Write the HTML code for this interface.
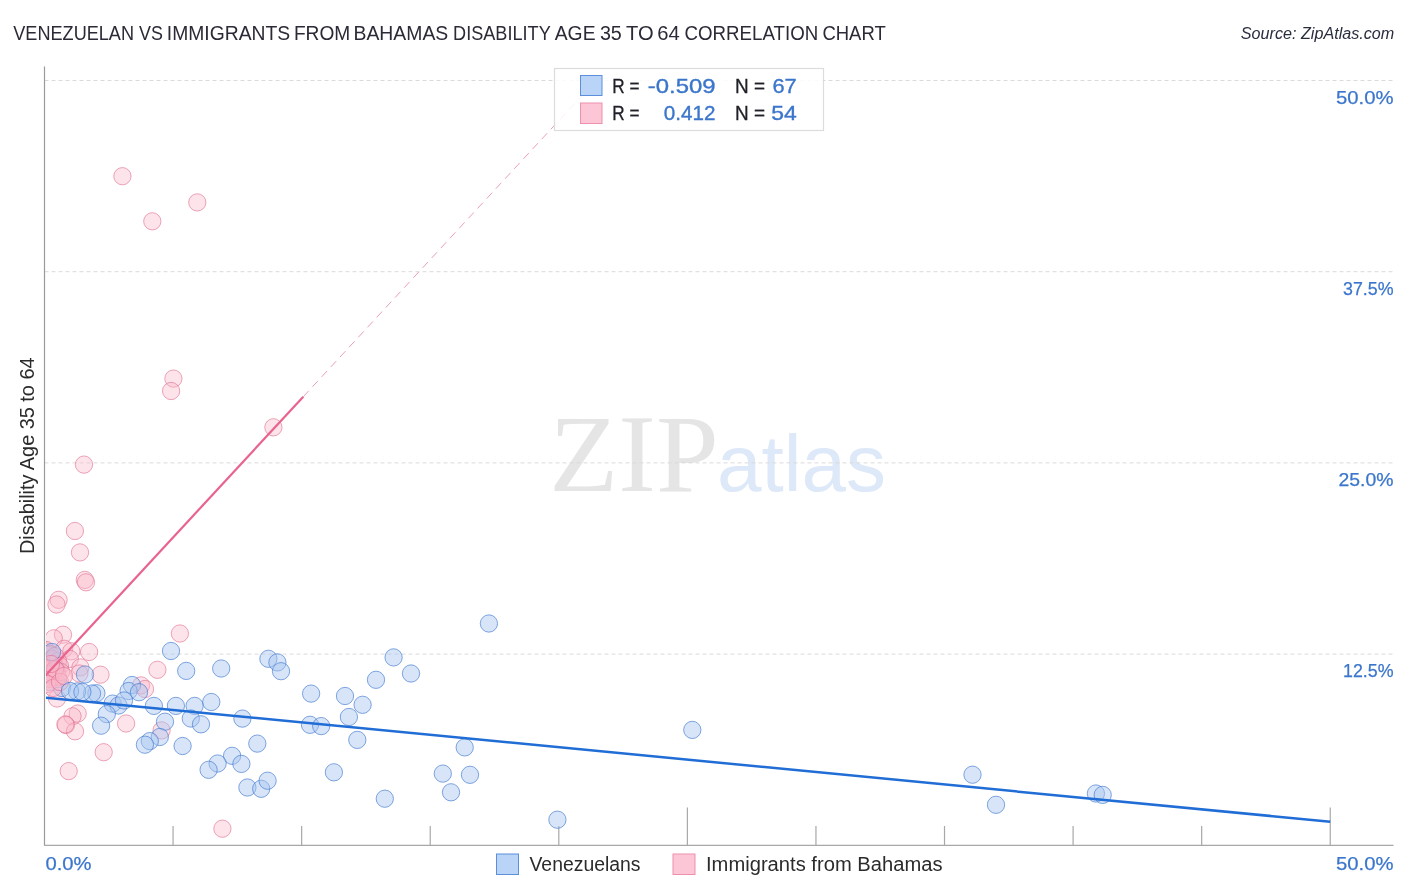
<!DOCTYPE html>
<html lang="en"><head><meta charset="utf-8"><title>Venezuelan vs Immigrants from Bahamas Disability Age 35 to 64 Correlation Chart</title>
<style>
html,body{margin:0;padding:0;background:#fff;}
body{width:1406px;height:892px;overflow:hidden;}
svg{display:block;}
text{font-family:"Liberation Sans",sans-serif;}
.ser{font-family:"Liberation Serif",serif;}
</style></head><body>
<svg width="1406" height="892" viewBox="0 0 1406 892">
<rect width="1406" height="892" fill="#fff"/>
<text class="ser" x="549.3" y="490.5" font-size="111" fill="#e5e5e5" textLength="169.5" lengthAdjust="spacingAndGlyphs">ZIP</text>
<text x="717" y="490.5" font-size="80" fill="#dde8f8" textLength="169" lengthAdjust="spacingAndGlyphs">atlas</text>
<line x1="44.5" y1="654.10" x2="1393.5" y2="654.10" stroke="#dadada" stroke-width="1" stroke-dasharray="4 3"/>
<line x1="44.5" y1="462.90" x2="1393.5" y2="462.90" stroke="#dadada" stroke-width="1" stroke-dasharray="4 3"/>
<line x1="44.5" y1="271.70" x2="1393.5" y2="271.70" stroke="#dadada" stroke-width="1" stroke-dasharray="4 3"/>
<line x1="44.5" y1="80.50" x2="1393.5" y2="80.50" stroke="#dadada" stroke-width="1" stroke-dasharray="4 3"/>
<line x1="44.5" y1="66.5" x2="44.5" y2="845.8" stroke="#9a9a9a" stroke-width="1.2"/>
<line x1="44.5" y1="845.3" x2="1393.5" y2="845.3" stroke="#a8a8a8" stroke-width="1.2"/>
<line x1="173.07" y1="826" x2="173.07" y2="845.3" stroke="#a8a8a8" stroke-width="1.2"/>
<line x1="301.65" y1="826" x2="301.65" y2="845.3" stroke="#a8a8a8" stroke-width="1.2"/>
<line x1="430.23" y1="826" x2="430.23" y2="845.3" stroke="#a8a8a8" stroke-width="1.2"/>
<line x1="558.80" y1="826" x2="558.80" y2="845.3" stroke="#a8a8a8" stroke-width="1.2"/>
<line x1="687.38" y1="807.5" x2="687.38" y2="845.3" stroke="#a8a8a8" stroke-width="1.2"/>
<line x1="815.95" y1="826" x2="815.95" y2="845.3" stroke="#a8a8a8" stroke-width="1.2"/>
<line x1="944.52" y1="826" x2="944.52" y2="845.3" stroke="#a8a8a8" stroke-width="1.2"/>
<line x1="1073.10" y1="826" x2="1073.10" y2="845.3" stroke="#a8a8a8" stroke-width="1.2"/>
<line x1="1201.67" y1="826" x2="1201.67" y2="845.3" stroke="#a8a8a8" stroke-width="1.2"/>
<line x1="1330.25" y1="807.5" x2="1330.25" y2="845.3" stroke="#a8a8a8" stroke-width="1.2"/>
<defs><clipPath id="pc"><rect x="46" y="60" width="1347.5" height="785.3"/></clipPath></defs>
<g clip-path="url(#pc)">
<g fill="#f9b8cb" fill-opacity="0.40" stroke="#e0708f" stroke-opacity="0.62" stroke-width="1">
<circle cx="122.4" cy="176.2" r="8.65"/><circle cx="152.3" cy="221.3" r="8.65"/><circle cx="197.3" cy="202.4" r="8.65"/><circle cx="173.4" cy="378.6" r="8.65"/><circle cx="171.1" cy="391" r="8.65"/><circle cx="273.4" cy="427.3" r="8.65"/><circle cx="84" cy="464.6" r="8.65"/><circle cx="74.9" cy="531" r="8.65"/><circle cx="80" cy="552.4" r="8.65"/><circle cx="84.8" cy="579.9" r="8.65"/><circle cx="86" cy="582.3" r="8.65"/><circle cx="58.6" cy="599.8" r="8.65"/><circle cx="56.5" cy="604.5" r="8.65"/><circle cx="179.9" cy="633.5" r="8.65"/><circle cx="157.4" cy="669.8" r="8.65"/><circle cx="89.1" cy="652" r="8.65"/><circle cx="100.5" cy="674.7" r="8.65"/><circle cx="63" cy="634.7" r="8.65"/><circle cx="53.8" cy="638.3" r="8.65"/><circle cx="141" cy="685.4" r="8.65"/><circle cx="145" cy="689" r="8.65"/><circle cx="77.7" cy="713.5" r="8.65"/><circle cx="72.5" cy="716.3" r="8.65"/><circle cx="66" cy="725" r="8.65"/><circle cx="75" cy="731.3" r="8.65"/><circle cx="126.1" cy="723.5" r="8.65"/><circle cx="103.7" cy="752.2" r="8.65"/><circle cx="68.7" cy="771.1" r="8.65"/><circle cx="161.6" cy="730.4" r="8.65"/><circle cx="222.4" cy="828.7" r="8.65"/><circle cx="57" cy="698.5" r="8.65"/><circle cx="65.4" cy="724.4" r="8.65"/><circle cx="64.2" cy="648.8" r="8.65"/><circle cx="71.3" cy="651.3" r="8.65"/><circle cx="69.8" cy="658.9" r="8.65"/><circle cx="80.4" cy="667.4" r="8.65"/><circle cx="79.4" cy="673.5" r="8.65"/>
</g>
<g fill="#f9b8cb" fill-opacity="0.55" stroke="#e0708f" stroke-opacity="0.62" stroke-width="1">
<circle cx="46" cy="650" r="8.65"/><circle cx="47" cy="655" r="8.65"/><circle cx="48" cy="660" r="8.65"/><circle cx="46.5" cy="665" r="8.65"/><circle cx="50" cy="654" r="8.65"/><circle cx="52" cy="659" r="8.65"/><circle cx="54" cy="664" r="8.65"/><circle cx="49" cy="669" r="8.65"/><circle cx="52" cy="673" r="8.65"/><circle cx="56" cy="668" r="8.65"/><circle cx="58" cy="661" r="8.65"/><circle cx="55" cy="656" r="8.65"/><circle cx="60" cy="666" r="8.65"/>
</g>
<g fill="#a9c6f0" fill-opacity="0.45" stroke="#3f78d0" stroke-opacity="0.65" stroke-width="1">
<circle cx="52" cy="652" r="8.65"/><circle cx="56" cy="670" r="8.65"/><circle cx="50" cy="682" r="8.65"/><circle cx="62" cy="688" r="8.65"/><circle cx="58" cy="679" r="8.65"/>
</g>
<g fill="#f9b8cb" fill-opacity="0.55" stroke="#e0708f" stroke-opacity="0.62" stroke-width="1">
<circle cx="57" cy="672" r="8.65"/><circle cx="53" cy="677" r="8.65"/><circle cx="58" cy="677" r="8.65"/><circle cx="61" cy="672" r="8.65"/><circle cx="50" cy="679" r="8.65"/><circle cx="47" cy="674" r="8.65"/><circle cx="55" cy="669" r="8.65"/><circle cx="51" cy="664" r="8.65"/><circle cx="47" cy="684" r="8.65"/><circle cx="53" cy="688" r="8.65"/><circle cx="60" cy="682" r="8.65"/><circle cx="64" cy="676" r="8.65"/>
</g>
<g fill="#a9c6f0" fill-opacity="0.45" stroke="#3f78d0" stroke-opacity="0.65" stroke-width="1">
<circle cx="171" cy="651" r="8.65"/><circle cx="186.2" cy="670.9" r="8.65"/><circle cx="221.2" cy="668.5" r="8.65"/><circle cx="85" cy="674.5" r="8.65"/><circle cx="132" cy="685" r="8.65"/><circle cx="128.6" cy="691" r="8.65"/><circle cx="139" cy="692.2" r="8.65"/><circle cx="153.9" cy="705.9" r="8.65"/><circle cx="175.9" cy="705.9" r="8.65"/><circle cx="194.6" cy="705.9" r="8.65"/><circle cx="211.3" cy="702" r="8.65"/><circle cx="96.4" cy="693.2" r="8.65"/><circle cx="92" cy="693.5" r="8.65"/><circle cx="77" cy="691.5" r="8.65"/><circle cx="70" cy="691" r="8.65"/><circle cx="112.6" cy="703.6" r="8.65"/><circle cx="118.5" cy="705.5" r="8.65"/><circle cx="124" cy="700.5" r="8.65"/><circle cx="106.8" cy="714.1" r="8.65"/><circle cx="101.1" cy="725.7" r="8.65"/><circle cx="165" cy="721.7" r="8.65"/><circle cx="190.8" cy="718.5" r="8.65"/><circle cx="201" cy="724.3" r="8.65"/><circle cx="242.4" cy="718.6" r="8.65"/><circle cx="159.8" cy="737" r="8.65"/><circle cx="149.8" cy="741.1" r="8.65"/><circle cx="144.9" cy="744.7" r="8.65"/><circle cx="182.6" cy="746" r="8.65"/><circle cx="232.1" cy="755.8" r="8.65"/><circle cx="217.6" cy="763.5" r="8.65"/><circle cx="208.6" cy="769.8" r="8.65"/><circle cx="241.4" cy="763.9" r="8.65"/><circle cx="257.3" cy="743.6" r="8.65"/><circle cx="247.4" cy="787.5" r="8.65"/><circle cx="261.2" cy="788.8" r="8.65"/><circle cx="267.6" cy="780.7" r="8.65"/><circle cx="268.4" cy="658.8" r="8.65"/><circle cx="277.4" cy="662.4" r="8.65"/><circle cx="281" cy="671.2" r="8.65"/><circle cx="311.1" cy="693.6" r="8.65"/><circle cx="345" cy="696" r="8.65"/><circle cx="362.6" cy="704.8" r="8.65"/><circle cx="376" cy="679.8" r="8.65"/><circle cx="393.6" cy="657.4" r="8.65"/><circle cx="411" cy="673.5" r="8.65"/><circle cx="310" cy="724.8" r="8.65"/><circle cx="321.2" cy="726.1" r="8.65"/><circle cx="348.9" cy="717" r="8.65"/><circle cx="357.3" cy="739.9" r="8.65"/><circle cx="333.9" cy="772.3" r="8.65"/><circle cx="384.8" cy="798.7" r="8.65"/><circle cx="488.9" cy="623.5" r="8.65"/><circle cx="464.7" cy="747.4" r="8.65"/><circle cx="442.8" cy="773.6" r="8.65"/><circle cx="470" cy="774.8" r="8.65"/><circle cx="451" cy="792.3" r="8.65"/><circle cx="557.4" cy="819.7" r="8.65"/><circle cx="692.3" cy="729.9" r="8.65"/><circle cx="972.5" cy="774.7" r="8.65"/><circle cx="996" cy="804.8" r="8.65"/><circle cx="1095.9" cy="793.5" r="8.65"/><circle cx="1102.7" cy="794.9" r="8.65"/><circle cx="82.4" cy="692" r="8.65"/>
</g>
<line x1="303.3" y1="396.7" x2="596" y2="80.5" stroke="#e993ad" stroke-width="0.9" stroke-dasharray="8 5.5"/>
<line x1="44.5" y1="676.4" x2="303.3" y2="396.7" stroke="#e8648e" stroke-width="2.2"/>
<line x1="44.5" y1="697.5" x2="1330.25" y2="821.75" stroke="#216dd6" stroke-width="2.5"/>
</g>
<text y="40" font-size="19.7" fill="#2a2b36"><tspan x="13.27" textLength="120.77" lengthAdjust="spacingAndGlyphs">VENEZUELAN</tspan> <tspan x="139.04" textLength="23.85" lengthAdjust="spacingAndGlyphs">VS</tspan> <tspan x="166.86" textLength="123.27" lengthAdjust="spacingAndGlyphs">IMMIGRANTS</tspan> <tspan x="293.93" textLength="56.36" lengthAdjust="spacingAndGlyphs">FROM</tspan> <tspan x="353.51" textLength="94.77" lengthAdjust="spacingAndGlyphs">BAHAMAS</tspan> <tspan x="453.09" textLength="97.35" lengthAdjust="spacingAndGlyphs">DISABILITY</tspan> <tspan x="554.75" textLength="40.76" lengthAdjust="spacingAndGlyphs">AGE</tspan> <tspan x="599.9" textLength="21.95" lengthAdjust="spacingAndGlyphs">35</tspan> <tspan x="626.08" textLength="27.56" lengthAdjust="spacingAndGlyphs">TO</tspan> <tspan x="657.33" textLength="22.48" lengthAdjust="spacingAndGlyphs">64</tspan> <tspan x="684.54" textLength="133.65" lengthAdjust="spacingAndGlyphs">CORRELATION</tspan> <tspan x="822.4" textLength="63.29" lengthAdjust="spacingAndGlyphs">CHART</tspan></text>
<text x="1394.3" y="38.7" font-size="15.6" font-style="italic" fill="#2a2d3e" text-anchor="end" textLength="153.5" lengthAdjust="spacingAndGlyphs">Source: ZipAtlas.com</text>
<text x="1393.5" y="677.30" fill="#3b76cc" stroke="#3b76cc" stroke-width="0.25" font-size="19" lengthAdjust="spacingAndGlyphs" text-anchor="end" textLength="50.5">12.5%</text>
<text x="1393.5" y="486.10" fill="#3b76cc" stroke="#3b76cc" stroke-width="0.25" font-size="19" lengthAdjust="spacingAndGlyphs" text-anchor="end" textLength="55">25.0%</text>
<text x="1393.5" y="294.90" fill="#3b76cc" stroke="#3b76cc" stroke-width="0.25" font-size="19" lengthAdjust="spacingAndGlyphs" text-anchor="end" textLength="50.5">37.5%</text>
<text x="1393.5" y="103.70" fill="#3b76cc" stroke="#3b76cc" stroke-width="0.25" font-size="19" lengthAdjust="spacingAndGlyphs" text-anchor="end" textLength="57.5">50.0%</text>
<text x="45.5" y="869.5" fill="#3b76cc" stroke="#3b76cc" stroke-width="0.25" font-size="19" lengthAdjust="spacingAndGlyphs" textLength="46">0.0%</text>
<text x="1393.5" y="869.5" fill="#3b76cc" stroke="#3b76cc" stroke-width="0.25" font-size="19" lengthAdjust="spacingAndGlyphs" text-anchor="end" textLength="57.5">50.0%</text>
<text transform="translate(34.4,554) rotate(-90)" font-size="19.8" fill="#2b2b2b" textLength="196.5" lengthAdjust="spacingAndGlyphs">Disability Age 35 to 64</text>
<rect x="554.5" y="68.5" width="269" height="62" fill="#fff" fill-opacity="0.85" stroke="#dcdcdc" stroke-width="1.2"/>
<rect x="580.5" y="75.5" width="21.5" height="20" fill="#b9d4f7" stroke="#5b8fdc" stroke-width="1"/>
<rect x="580.5" y="103" width="21.5" height="20.5" fill="#fcc6d6" stroke="#ee8fab" stroke-width="1"/>
<text x="612.3" y="93" font-size="19.6" fill="#202128" stroke="#202128" stroke-width="0.3" lengthAdjust="spacingAndGlyphs" textLength="27.2">R =</text>
<text x="715.5" y="93" font-size="19.8" fill="#3b76cc" stroke="#3b76cc" stroke-width="0.35" lengthAdjust="spacingAndGlyphs" text-anchor="end" textLength="67.7">-0.509</text>
<text x="735" y="93" font-size="19.6" fill="#202128" stroke="#202128" stroke-width="0.3" lengthAdjust="spacingAndGlyphs" textLength="30">N =</text>
<text x="796.7" y="93" font-size="19.8" fill="#3b76cc" stroke="#3b76cc" stroke-width="0.35" lengthAdjust="spacingAndGlyphs" text-anchor="end" textLength="24.3">67</text>
<text x="612.3" y="119.6" font-size="19.6" fill="#202128" stroke="#202128" stroke-width="0.3" lengthAdjust="spacingAndGlyphs" textLength="27.2">R =</text>
<text x="715.5" y="119.6" font-size="19.8" fill="#3b76cc" stroke="#3b76cc" stroke-width="0.35" lengthAdjust="spacingAndGlyphs" text-anchor="end" textLength="51.7">0.412</text>
<text x="735" y="119.6" font-size="19.6" fill="#202128" stroke="#202128" stroke-width="0.3" lengthAdjust="spacingAndGlyphs" textLength="30">N =</text>
<text x="796.7" y="119.6" font-size="19.8" fill="#3b76cc" stroke="#3b76cc" stroke-width="0.35" lengthAdjust="spacingAndGlyphs" text-anchor="end" textLength="25.5">54</text>
<rect x="496.5" y="854" width="22" height="20.5" fill="#b9d4f7" stroke="#5b8fdc" stroke-width="1"/>
<text x="529.5" y="871.4" font-size="19.5" fill="#2b2b2b" textLength="111" lengthAdjust="spacingAndGlyphs">Venezuelans</text>
<rect x="673" y="854" width="22" height="20.5" fill="#fcc6d6" stroke="#ee8fab" stroke-width="1"/>
<text x="706" y="871.4" font-size="19.5" fill="#2b2b2b" textLength="236.5" lengthAdjust="spacingAndGlyphs">Immigrants from Bahamas</text>
</svg>
</body></html>
